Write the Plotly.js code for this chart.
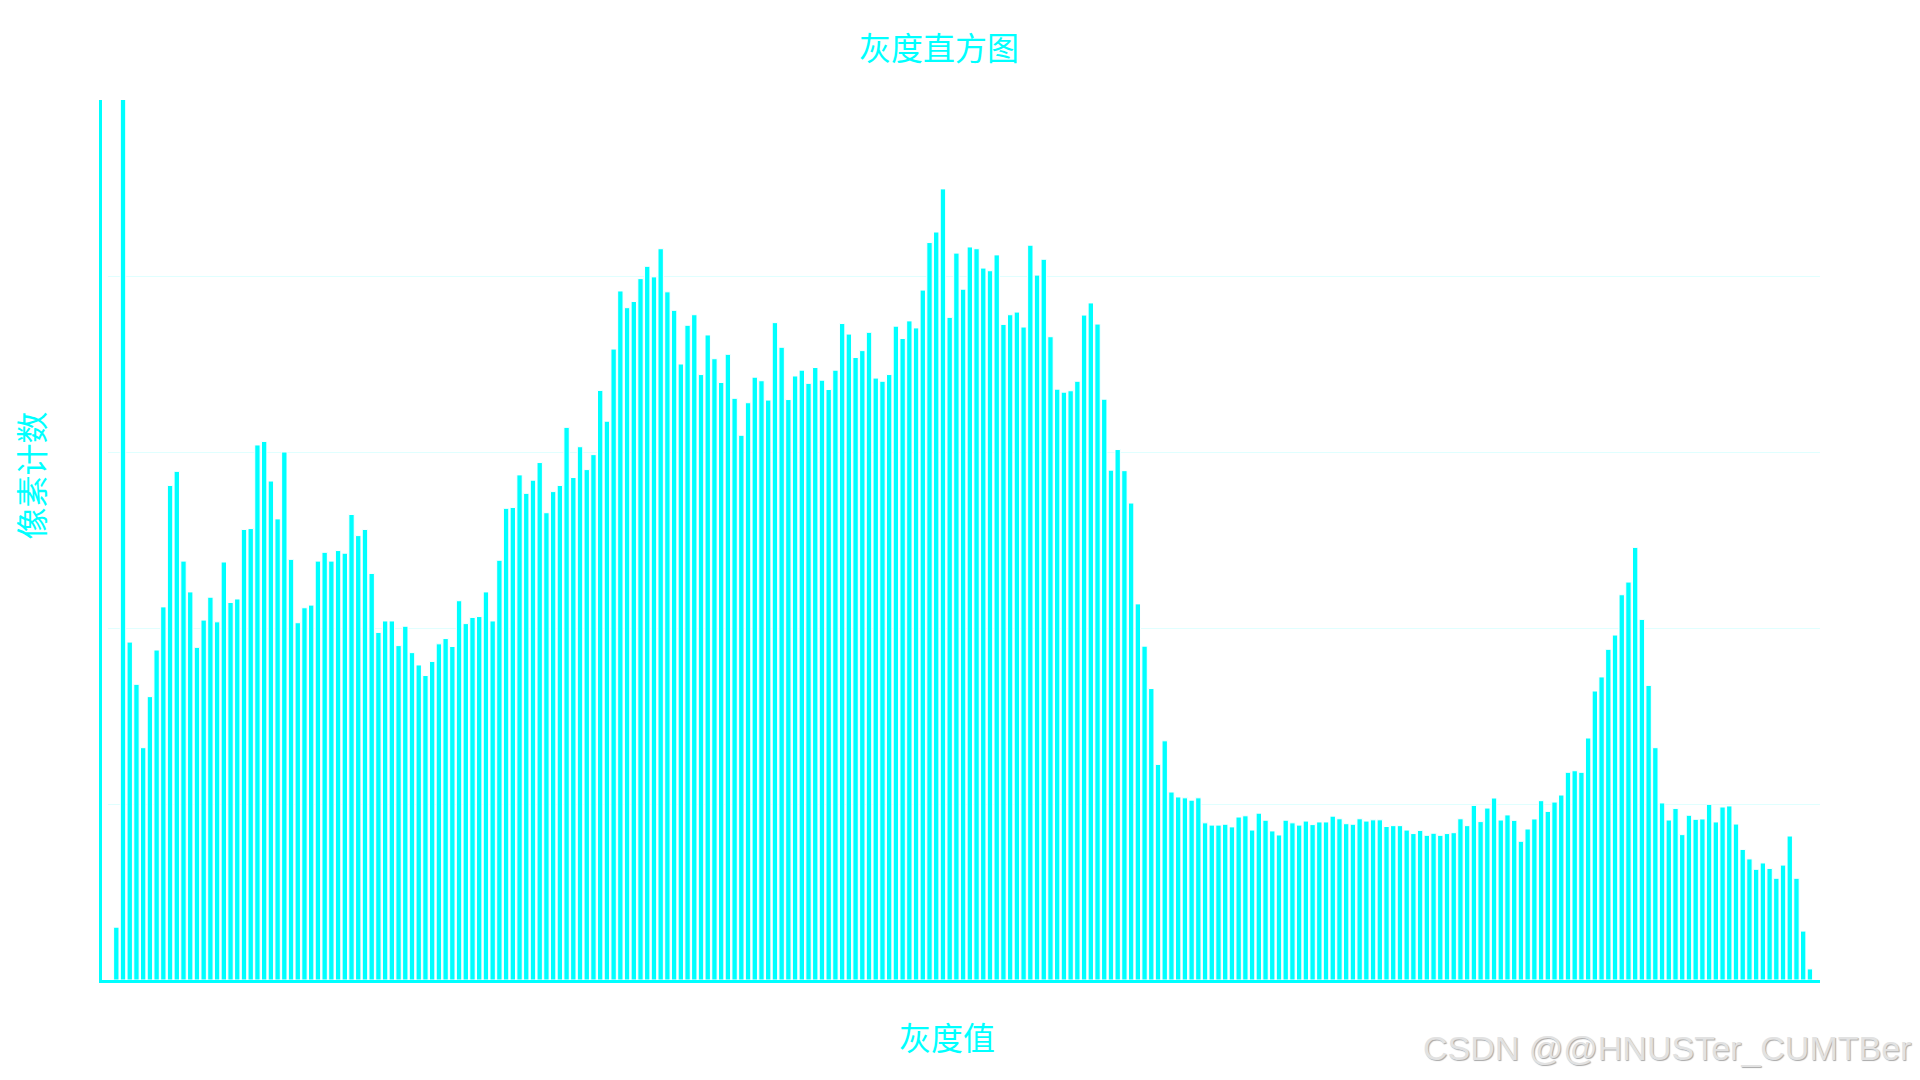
<!DOCTYPE html>
<html>
<head>
<meta charset="utf-8">
<script src="https://cdn.plot.ly/plotly-3.0.1.min.js"></script>
<style>
  html, body { margin: 0; padding: 0; background: #ffffff; }
  #chart { width: 1920px; height: 1080px; }
</style>
</head>
<body>
<div id="chart"></div>
<script>
// Gray levels 0..255 (category axis)
const grayLevels = [];
for (let g = 0; g < 256; g++) grayLevels.push(g);

// Pixel counts per gray level
const pixelCounts = [
  0, 0, 300, 6200, 1920, 1680, 1320, 1610, 1875, 2120,
  2810, 2890, 2380, 2205, 1890, 2045, 2175, 2035, 2375, 2145,
  2165, 2560, 2565, 3040, 3060, 2835, 2620, 3000, 2390, 2030,
  2115, 2130, 2380, 2430, 2380, 2440, 2425, 2645, 2525, 2560,
  2310, 1975, 2040, 2040, 1900, 2010, 1860, 1790, 1730, 1810,
  1910, 1940, 1895, 2155, 2025, 2060, 2065, 2205, 2040, 2385,
  2680, 2685, 2870, 2765, 2840, 2940, 2655, 2775, 2810, 3140,
  2855, 3030, 2900, 2985, 3350, 3175, 3585, 3915, 3820, 3855,
  3985, 4055, 3995, 4155, 3910, 3805, 3500, 3720, 3780, 3440,
  3665, 3530, 3395, 3555, 3305, 3095, 3280, 3425, 3405, 3295,
  3735, 3595, 3298, 3432, 3465, 3390, 3480, 3408, 3355, 3465,
  3730, 3670, 3537, 3576, 3680, 3420, 3402, 3440, 3715, 3645,
  3745, 3705, 3920, 4190, 4250, 4495, 3765, 4130, 3925, 4165,
  4155, 4045, 4030, 4120, 3725, 3780, 3795, 3710, 4175, 4005,
  4095, 3655, 3357, 3340, 3348, 3402, 3778, 3847, 3727, 3300,
  2897, 3014, 2894, 2710, 2137, 1897, 1656, 1225, 1359, 1068,
  1040, 1035, 1022, 1035, 893, 880, 880, 885, 870, 926,
  933, 852, 948, 908, 847, 824, 908, 893, 880, 903,
  883, 898, 898, 931, 916, 888, 885, 916, 903, 910,
  910, 872, 877, 877, 852, 832, 850, 822, 834, 822,
  832, 837, 916, 877, 992, 900, 977, 1034, 909, 938,
  907, 788, 858, 915, 1019, 958, 1011, 1051, 1180, 1189,
  1180, 1375, 1642, 1722, 1879, 1960, 2189, 2261, 2458, 2049,
  1674, 1320, 1006, 909, 975, 826, 936, 913, 915, 998,
  898, 983, 989, 886, 742, 688, 629, 665, 634, 578,
  653, 818, 578, 278, 63, 0
];

const titleText = '灰度直方图';
const xTitleText = '灰度值';
const yTitleText = '像素计数';
const watermarkText = 'CSDN @@HNUSTer_CUMTBer';

const CYAN = '#00FFFF';
const CJK = '"Noto Sans CJK SC", "Noto Sans", sans-serif';

const trace = {
  type: 'bar',
  x: grayLevels,
  y: pixelCounts,
  marker: { color: CYAN, line: { color: '#ffffff', width: 1 } },
  hoverinfo: 'x+y'
};

const L = 101.5, R = 100, T = 100, B = 100;
const plotW = 1920 - L - R, plotH = 1080 - T - B;

const layout = {
  width: 1920,
  height: 1080,
  paper_bgcolor: '#ffffff',
  plot_bgcolor: '#ffffff',
  margin: { l: L, r: R, t: T, b: B, pad: 0 },
  bargap: 0.2,
  showlegend: false,
  font: { family: CJK, color: CYAN },
  title: {
    text: titleText,
    font: { family: CJK, size: 32, color: CYAN },
    x: 939 / 1920, xanchor: 'center',
    y: 1 - 49 / 1080, yanchor: 'middle'
  },
  xaxis: {
    range: [-0.128, 255.5],
    showgrid: false,
    zeroline: false,
    showline: true, linecolor: CYAN, linewidth: 3,
    ticks: '', showticklabels: true,
    tickfont: { color: '#ffffff', size: 12 },
    automargin: false
  },
  yaxis: {
    range: [0, 5000],
    dtick: 1000,
    showgrid: true, gridcolor: '#E0FFFF', gridwidth: 1,
    zeroline: false,
    showline: true, linecolor: CYAN, linewidth: 3,
    ticks: 'inside', ticklen: 6, tickwidth: 2, tickcolor: '#ffffff',
    tickfont: { color: '#ffffff', size: 12 },
    automargin: false
  },
  annotations: [
    {
      text: xTitleText, xref: 'paper', yref: 'paper',
      x: (947 - L) / plotW, y: (980 - 1036) / plotH,
      xanchor: 'center', yanchor: 'middle', showarrow: false,
      font: { family: CJK, size: 32, color: CYAN }
    },
    {
      text: yTitleText, xref: 'paper', yref: 'paper',
      x: (29 - L) / plotW, y: (980 - 476) / plotH,
      xanchor: 'center', yanchor: 'middle', showarrow: false, textangle: -90,
      font: { family: CJK, size: 32, color: CYAN }
    },
    {
      text: watermarkText, xref: 'paper', yref: 'paper',
      x: (1913 - L) / plotW, y: (980 - 1048) / plotH,
      xanchor: 'right', yanchor: 'middle', showarrow: false,
      font: { family: '"Liberation Sans", Arial, sans-serif', size: 34, color: '#e2e2e2', shadow: '1px 1px 1px #a8a8a8' }
    }
  ]
};

Plotly.newPlot('chart', [trace], layout, { displayModeBar: false, staticPlot: true });
</script>
</body>
</html>
